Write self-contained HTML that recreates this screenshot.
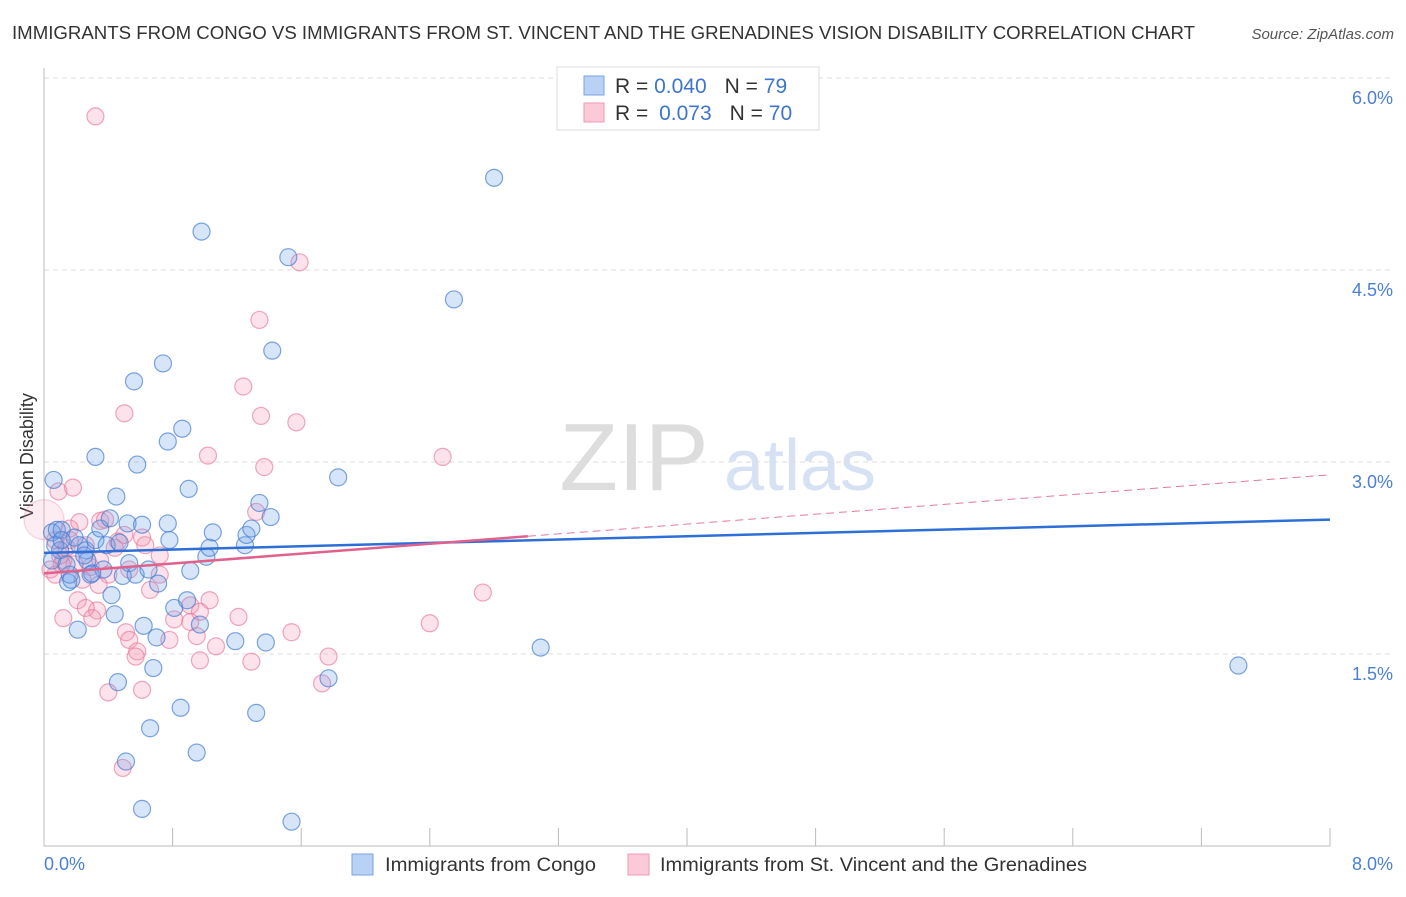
<!DOCTYPE html>
<html><head><meta charset="utf-8"><style>
body{margin:0;background:#fff;font-family:"Liberation Sans",sans-serif}
svg text{font-family:"Liberation Sans",sans-serif}
</style></head><body>
<svg width="1406" height="892" viewBox="0 0 1406 892" id="chart">
<text x="12" y="39" font-size="18" fill="#333" textLength="1183" lengthAdjust="spacingAndGlyphs">IMMIGRANTS FROM CONGO VS IMMIGRANTS FROM ST. VINCENT AND THE GRENADINES VISION DISABILITY CORRELATION CHART</text>
<text x="1394" y="39" font-size="15" fill="#555" text-anchor="end" font-style="italic">Source: ZipAtlas.com</text>
<g><text x="634" y="490" font-size="96" fill="#ddd" font-family="Liberation Serif" text-anchor="middle">ZIP</text><text x="800" y="490" font-size="72" fill="#d6e2f4" text-anchor="middle">atlas</text></g>
<g id="grid"></g>
<line x1="44" y1="68" x2="44" y2="846" stroke="#bbb"/>
<line x1="44" y1="846" x2="1330" y2="846" stroke="#bbb"/>
<g id="xticks"></g>
<text x="44" y="870" font-size="18" fill="#4a7fd4">0.0%</text>
<text x="1393" y="870" font-size="18" fill="#4a7fd4" text-anchor="end">8.0%</text>
<text transform="translate(33,456) rotate(-90)" font-size="18" fill="#333" text-anchor="middle">Vision Disability</text>
<g id="pts"></g>
<g id="trends"></g>
<g>
<rect x="557" y="67" width="262" height="63" fill="#fff" stroke="#ddd"/>
<rect x="584" y="76" width="20" height="19" fill="#b8d1f5" stroke="#7aa3e0"/>
<rect x="584" y="103" width="20" height="19" fill="#fbc9d7" stroke="#ee9ab4"/>
<text x="615" y="93" font-size="21" fill="#333">R = <tspan fill="#3f74cc">0.040</tspan><tspan dx="18">N = </tspan><tspan fill="#3f74cc">79</tspan></text>
<text x="615" y="120" font-size="21" fill="#333">R = <tspan fill="#3f74cc" dx="5">0.073</tspan><tspan dx="18">N = </tspan><tspan fill="#3f74cc">70</tspan></text>
</g>
<g>
<rect x="352" y="854" width="21" height="21" fill="#b8d1f5" stroke="#7aa3e0"/>
<text x="385" y="871" font-size="19" fill="#333" textLength="211" lengthAdjust="spacingAndGlyphs">Immigrants from Congo</text>
<rect x="628" y="854" width="21" height="21" fill="#fbc9d7" stroke="#ee9ab4"/>
<text x="660" y="871" font-size="19" fill="#333" textLength="427" lengthAdjust="spacingAndGlyphs">Immigrants from St. Vincent and the Grenadines</text>
</g>
</svg>
<script>
const yTicks=[1.5,3.0,4.5,6.0];
const yTickLabels=["1.5%","3.0%","4.5%","6.0%"];
const xTicks=[0,0.8,1.6,2.4,3.2,4.0,4.8,5.6,6.4,7.2,8.0];
const blueX=[.06,.05,.08,.11,.07,.10,.05,.15,.16,.19,.22,.26,.27,.29,.32,.32,.35,.37,.39,.41,.42,.44,.45,.46,.47,.49,.51,.52,.53,.56,.57,.58,.61,.61,.62,.65,.66,.68,.70,.71,.74,.77,.77,.78,.81,.85,.86,.89,.90,.91,.95,.97,.98,1.01,1.03,1.05,1.19,1.25,1.26,1.29,1.32,1.34,1.38,1.41,1.42,1.52,1.54,1.77,1.83,2.55,2.80,3.09,7.43,.14,.17,.21,.25,.30,.11];
const blueY=[2.86,2.45,2.47,2.47,2.35,2.31,2.23,2.06,2.12,2.41,2.35,2.31,2.23,2.12,2.39,3.04,2.48,2.16,2.35,2.56,1.96,1.81,2.73,1.28,2.37,2.11,0.66,2.52,2.21,3.63,2.12,2.98,0.29,2.51,1.72,2.16,0.92,1.39,1.63,2.05,3.77,2.52,3.16,2.39,1.86,1.08,3.26,1.92,2.79,2.15,0.73,1.73,4.80,2.26,2.33,2.45,1.60,2.35,2.43,2.48,1.04,2.68,1.59,2.57,3.87,4.60,0.19,1.31,2.88,4.27,5.22,1.55,1.41,2.20,2.08,1.69,2.27,2.13,2.39];
const pinkX=[.32,1.59,1.34,1.24,.50,1.35,1.57,1.02,2.48,1.37,.18,.09,1.32,.35,.16,.61,.46,.72,.12,.19,.29,.40,.04,.24,.34,.66,.21,1.03,.91,.33,.26,.97,.12,.30,1.21,.81,.91,2.40,.51,1.54,.95,.53,.78,1.07,.58,.57,.97,1.29,1.77,1.73,.61,.40,.49,2.73,.07,.10,.14,.26,.44,.50,.63,.38,.22,.16,.35,.53,.72,.07,.11,0.0];
const pinkY=[5.70,4.56,4.11,3.59,3.38,3.36,3.31,3.05,3.04,2.96,2.80,2.77,2.61,2.54,2.48,2.41,2.38,2.27,2.23,2.20,2.18,2.12,2.16,2.08,2.04,2.00,1.92,1.92,1.88,1.84,1.86,1.83,1.78,1.78,1.79,1.77,1.75,1.74,1.67,1.67,1.64,1.61,1.61,1.56,1.52,1.48,1.45,1.44,1.48,1.27,1.22,1.20,0.61,1.98,2.39,2.27,2.33,2.35,2.33,2.43,2.35,2.55,2.53,2.39,2.23,2.16,2.12,2.12,2.20,2.55];
const blueTrend=[2.29,2.55];
const pinkTrend=[2.13,2.90];
const pinkSolidEnd=3.01;
const X0=44,X1=1330,YB=846,PXPER=128;
const sx=v=>X0+v/8*(X1-X0);
const sy=v=>YB-v*PXPER;
const NS="http://www.w3.org/2000/svg";
function mk(t,a,p){const e=document.createElementNS(NS,t);for(const k in a)e.setAttribute(k,a[k]);p.appendChild(e);return e;}
const grid=document.getElementById('grid');
yTicks.forEach((v,i)=>{
 const l=mk('line',{x1:44,x2:1394,y1:sy(v),y2:sy(v),stroke:'#ddd','stroke-dasharray':'5,4'},grid);
 
 
 const t=mk('text',{x:1393,y:sy(v)+26,'font-size':18,fill:'#4a7fd4','text-anchor':'end'},grid);
 t.textContent=yTickLabels[i];
 
 
});
const xt=document.getElementById('xticks');
xTicks.forEach(v=>{
 const l=mk('line',{x1:sx(v),x2:sx(v),y1:828,y2:846,stroke:'#bbb'},xt);
 
 
});
const pts=document.getElementById('pts');
pinkX.forEach((x,i)=>{
 const big=(i===pinkX.length-1);
 const c=mk('circle',{cx:sx(x),cy:sy(pinkY[i]),r:big?20:8.5,fill:big?'rgba(244,150,180,0.18)':'rgba(244,150,180,0.28)',stroke:big?'rgba(232,120,155,0.3)':'rgba(232,120,155,0.65)','stroke-width':1.2},pts);
 
 
});
blueX.forEach((x,i)=>{
 const c=mk('circle',{cx:sx(x),cy:sy(blueY[i]),r:8.5,fill:'rgba(110,160,235,0.28)',stroke:'rgba(70,125,210,0.7)','stroke-width':1.2},pts);
 
 
});
const tr=document.getElementById('trends');
const pAt=x=>pinkTrend[0]+(pinkTrend[1]-pinkTrend[0])*x/8;
let d=mk('line',{x1:sx(pinkSolidEnd),y1:sy(pAt(pinkSolidEnd)),x2:sx(8),y2:sy(pinkTrend[1]),stroke:'#e27a9c','stroke-width':1,'stroke-dasharray':'8,5'},tr);


let b=mk('line',{x1:sx(0),y1:sy(blueTrend[0]),x2:sx(8),y2:sy(blueTrend[1]),stroke:'#2d6fd6','stroke-width':2.5},tr);


let p=mk('line',{x1:sx(0),y1:sy(pinkTrend[0]),x2:sx(pinkSolidEnd),y2:sy(pAt(pinkSolidEnd)),stroke:'#e0628c','stroke-width':2.5},tr);


</script>
</body></html>
